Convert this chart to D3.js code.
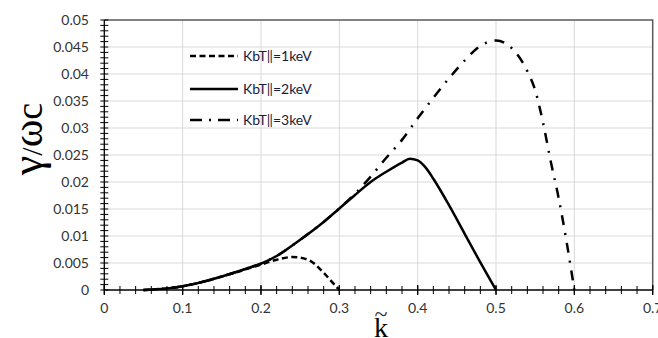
<!DOCTYPE html>
<html>
<head>
<meta charset="utf-8">
<script src="https://cdn.jsdelivr.net/npm/d3@7"></script>
<style>
  body { margin: 0; background: #fff; }
  svg { display: block; }
</style>
</head>
<body>
<div id="chart"></div>
<script>
// data
var k1 = [0.05, 0.08, 0.1, 0.12, 0.15, 0.18, 0.2, 0.22, 0.24, 0.26, 0.28, 0.29, 0.3];
var g1 = [0, 0.0003, 0.0007, 0.0013, 0.0025, 0.0038, 0.0047, 0.0056, 0.0061, 0.0056, 0.0032, 0.0016, 0];

var k2 = [0.05, 0.08, 0.1, 0.12, 0.15, 0.18, 0.2, 0.22, 0.25, 0.28, 0.3, 0.32, 0.34, 0.36, 0.38, 0.39, 0.4, 0.41, 0.42, 0.44, 0.46, 0.48, 0.5];
var g2 = [0, 0.0003, 0.0007, 0.0013, 0.0025, 0.0039, 0.0049, 0.0063, 0.0093, 0.0126, 0.0151, 0.0176, 0.0200, 0.0219, 0.0236, 0.0243, 0.0240, 0.0227, 0.0206, 0.0157, 0.0104, 0.0051, 0];

var k3 = [0.05, 0.08, 0.1, 0.12, 0.15, 0.18, 0.2, 0.22, 0.25, 0.28, 0.3, 0.32, 0.34, 0.36, 0.38, 0.4, 0.42, 0.44, 0.46, 0.48, 0.5, 0.52, 0.54, 0.55, 0.56, 0.57, 0.58, 0.59, 0.6];
var g3 = [0, 0.0003, 0.0007, 0.0013, 0.0025, 0.0039, 0.0049, 0.0063, 0.0093, 0.0126, 0.0151, 0.0178, 0.0210, 0.0245, 0.0278, 0.0318, 0.0356, 0.0392, 0.0425, 0.0452, 0.0462, 0.0448, 0.0405, 0.0370, 0.0310, 0.0237, 0.0170, 0.0090, 0];

var seriesNames = ["KbT\u2016=1keV", "KbT\u2016=2keV", "KbT\u2016=3keV"];

var xTicks = [0, 0.1, 0.2, 0.3, 0.4, 0.5, 0.6, 0.7];
var xTickLabels = ["0", "0.1", "0.2", "0.3", "0.4", "0.5", "0.6", "0.7"];
var yTicks = [0, 0.005, 0.01, 0.015, 0.02, 0.025, 0.03, 0.035, 0.04, 0.045, 0.05];
var yTickLabels = ["0", "0.005", "0.01", "0.015", "0.02", "0.025", "0.03", "0.035", "0.04", "0.045", "0.05"];

(function() {
    var width = 658, height = 338;
    var svg = d3.select("#chart").append("svg")
        .attr("width", width).attr("height", height);

    var x = d3.scaleLinear().domain([0, 0.7]).range([104.3, 652.7]);
    var y = d3.scaleLinear().domain([0, 0.05]).range([290, 20]);

    var labelFont = "Lato, 'Liberation Sans', sans-serif";
    var serif = "'Liberation Serif', 'Times New Roman', serif";

    // grid
    svg.append("g").selectAll("line")
        .data(xTicks.slice(1, -1))
        .enter().append("line")
        .attr("x1", d => x(d)).attr("x2", d => x(d))
        .attr("y1", y(0)).attr("y2", y(0.05))
        .attr("stroke", "#d9d9d9").attr("stroke-width", 1);
    svg.append("g").selectAll("line")
        .data(yTicks.slice(1, -1))
        .enter().append("line")
        .attr("x1", x(0)).attr("x2", x(0.7))
        .attr("y1", d => y(d)).attr("y2", d => y(d))
        .attr("stroke", "#d9d9d9").attr("stroke-width", 1);

    // top & right border
    svg.append("path")
        .attr("d", "M" + x(0) + "," + y(0.05) + "H" + x(0.7) + "V" + y(0))
        .attr("fill", "none").attr("stroke", "#595959").attr("stroke-width", 1.5);

    // axes
    var minorX = d3.range(0, 0.7001, 0.02);
    var minorY = d3.range(0, 0.05001, 0.001);
    var ax = svg.append("g").attr("stroke", "#000");
    ax.append("line").attr("x1", x(0)).attr("x2", x(0.7))
        .attr("y1", y(0)).attr("y2", y(0)).attr("stroke-width", 1.3);
    ax.append("line").attr("x1", x(0)).attr("x2", x(0))
        .attr("y1", y(0)).attr("y2", y(0.05)).attr("stroke-width", 1.3);
    ax.selectAll(".mx").data(minorX).enter().append("line")
        .attr("x1", d => x(d)).attr("x2", d => x(d))
        .attr("y1", y(0) - 4).attr("y2", y(0) + 4).attr("stroke-width", 1);
    ax.selectAll(".Mx").data(xTicks).enter().append("line")
        .attr("x1", d => x(d)).attr("x2", d => x(d))
        .attr("y1", y(0) - 5).attr("y2", y(0) + 5).attr("stroke-width", 1.3);
    ax.selectAll(".my").data(minorY).enter().append("line")
        .attr("x1", x(0) - 4).attr("x2", x(0) + 4)
        .attr("y1", d => y(d)).attr("y2", d => y(d)).attr("stroke-width", 1);

    svg.append("g").selectAll("text")
        .data(xTicks).enter().append("text")
        .attr("x", d => x(d)).attr("y", y(0) + 23)
        .attr("text-anchor", "middle")
        .attr("font-family", labelFont).attr("font-size", 14).attr("fill", "#333")
        .text((d, i) => xTickLabels[i]);
    svg.append("g").selectAll("text")
        .data(yTicks).enter().append("text")
        .attr("x", 89).attr("y", d => y(d) + 5)
        .attr("text-anchor", "end")
        .attr("font-family", labelFont).attr("font-size", 14).attr("fill", "#333")
        .text((d, i) => yTickLabels[i]);

    // axis titles
    var yt = svg.append("text")
        .attr("transform", "translate(42,139) rotate(-90)")
        .attr("text-anchor", "middle")
        .attr("font-family", serif)
        .attr("fill", "#000");
    yt.append("tspan").attr("font-size", 44).text("\u03b3");
    yt.append("tspan").attr("font-size", 30).text("/");
    yt.append("tspan").attr("font-size", 42).text("\u03c9");
    yt.append("tspan").attr("font-size", 38).text("c");

    svg.append("text")
        .attr("x", 381).attr("y", 337)
        .attr("text-anchor", "middle")
        .attr("font-family", serif)
        .attr("font-size", 28).attr("fill", "#000")
        .text("k");
    svg.append("text")
        .attr("x", 381).attr("y", 322)
        .attr("text-anchor", "middle")
        .attr("font-family", serif)
        .attr("font-size", 24).attr("fill", "#333")
        .text("~");

    // curves
    var line = d3.line()
        .x(d => x(d[0])).y(d => y(d[1]))
        .curve(d3.curveMonotoneX);

    var series = [
        { k: k1, g: g1, dash: "6,3.5" },
        { k: k2, g: g2, dash: null },
        { k: k3, g: g3, dash: "10,8,2,8" }
    ];

    svg.append("g").selectAll("path")
        .data(series.slice().reverse())
        .enter().append("path")
        .attr("d", s => line(d3.zip(s.k, s.g)))
        .attr("fill", "none")
        .attr("stroke", "#000")
        .attr("stroke-width", 2.5)
        .attr("stroke-dasharray", s => s.dash);

    // legend
    var legY = [56, 89, 120];
    var legDash = ["6,3.5", null, "12,7,2,7"];
    var leg = svg.append("g");
    leg.selectAll("line").data(seriesNames).enter().append("line")
        .attr("x1", 190).attr("x2", 238)
        .attr("y1", (d, i) => legY[i]).attr("y2", (d, i) => legY[i])
        .attr("stroke", "#000").attr("stroke-width", 2.5)
        .attr("stroke-dasharray", (d, i) => legDash[i]);
    leg.selectAll("text").data(seriesNames).enter().append("text")
        .attr("x", 243).attr("y", (d, i) => legY[i] + 5)
        .attr("font-family", labelFont).attr("font-size", 14).attr("fill", "#1a1a40")
        .text(d => d);
})();
</script>
</body>
</html>
